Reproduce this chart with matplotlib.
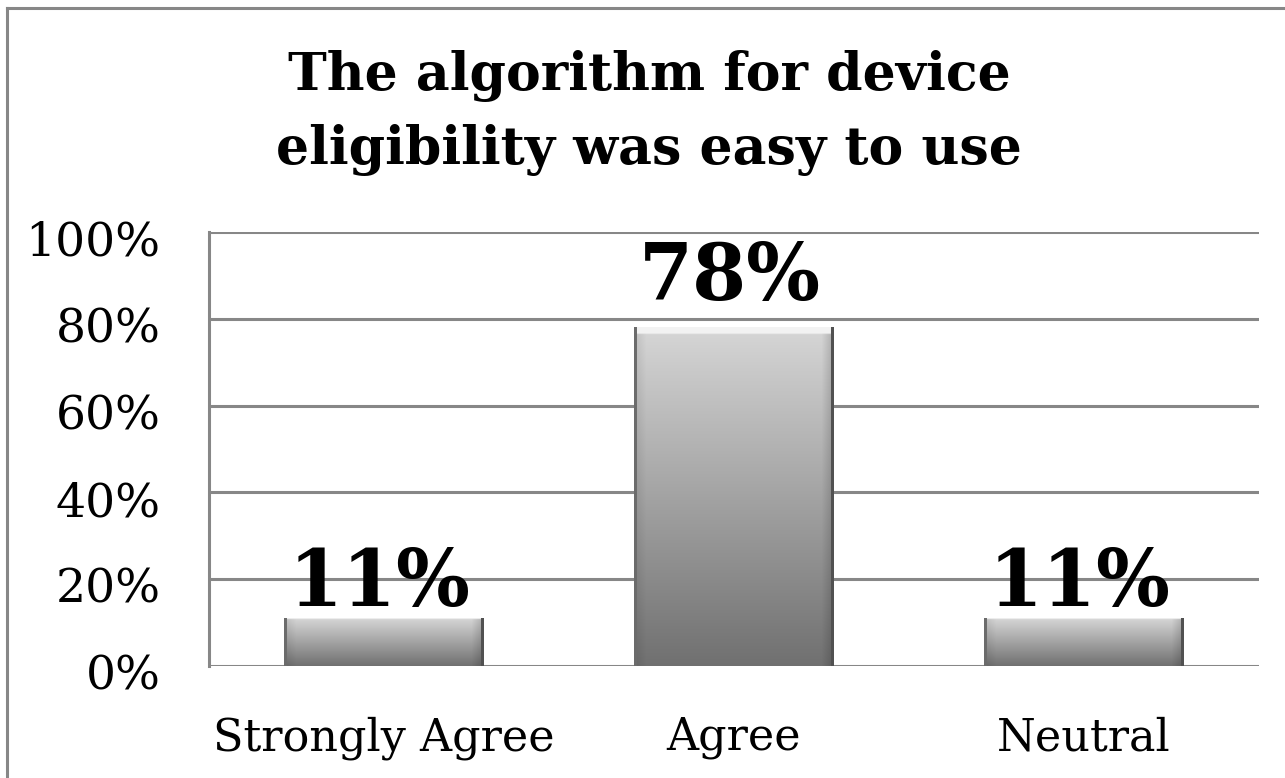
import matplotlib.pyplot as plt
import numpy as np
from matplotlib.lines import Line2D
from matplotlib.transforms import ScaledTranslation

# data
categories = ['Strongly Agree', 'Agree', 'Neutral']
values = [11, 78, 11]
value_labels = ['11%', '78%', '11%']
yticks = [0, 20, 40, 60, 80, 100]
ytick_labels = ['0%', '20%', '40%', '60%', '80%', '100%']

title = 'The algorithm for device\neligibility was easy to use'

grid_col = '#878787'
serif = ['DejaVu Serif']

fig = plt.figure(figsize=(12.85, 7.78), dpi=100)
ax = fig.add_axes([209 / 1285, 112 / 778, 1050 / 1285, 434 / 778])

x = np.arange(len(categories))
bars = ax.bar(x, values, width=0.57, color='none', edgecolor='none', zorder=3)

# gradient fill: light top, dark bottom, darker bevelled sides
ny, nx = 200, 200
t = np.linspace(0, 1, ny)[:, None]
s = np.linspace(0, 1, nx)[None, :]
shade = 0.84 - 0.40 * t
side = np.ones_like(s)
side = side - 0.10 * np.clip(1 - s / 0.06, 0, 1) - 0.18 * np.clip(1 - (1 - s) / 0.06, 0, 1)
img = shade * side
img = np.clip(img, 0, 1)
# thin light strip at top
img[:4, :] = 0.95
img[:, :3] = 0.42
img[:, -3:] = 0.32
rgb = np.dstack([img, img, img])

for b in bars:
    x0, y0 = b.get_x(), b.get_y()
    w, h = b.get_width(), b.get_height()
    im = ax.imshow(rgb, extent=[x0, x0 + w, y0, y0 + h], origin='upper',
                   aspect='auto', zorder=3, interpolation='bilinear')
    im.set_clip_path(b)

label_offsets = [-3, 8, -3]
for b, lab, off in zip(bars, value_labels, label_offsets):
    ax.annotate(lab, (b.get_x() + b.get_width() / 2, b.get_height()),
                xytext=(-3, off), textcoords='offset points',
                ha='center', va='bottom', fontsize=56, fontweight='bold',
                family=serif, color='black', zorder=5)

ax.set_xlim(-0.5, len(categories) - 0.5)
ax.set_ylim(0, 100)
ax.set_yticks(yticks)
ax.set_yticklabels(ytick_labels, family=serif, fontsize=34)
ax.set_xticks(x)
ax.set_xticklabels(categories, family=serif, fontsize=32)
ax.tick_params(length=0)
ax.tick_params(axis='y', pad=35)
ax.tick_params(axis='x', pad=36)
# office puts the y labels a touch below their gridline
shift = ScaledTranslation(0, -6 / 100, fig.dpi_scale_trans)
for lab in ax.get_yticklabels():
    lab.set_transform(lab.get_transform() + shift)
ax.yaxis.grid(True, color=grid_col, linewidth=2.2, zorder=0)
ax.set_axisbelow(True)
for sp in ['top', 'right', 'bottom']:
    ax.spines[sp].set_visible(False)
ax.spines['left'].set_color(grid_col)
ax.spines['left'].set_linewidth(2.2)

fig.text(0.505, 0.855, title, ha='center', va='center', fontsize=37.5,
         fontweight='bold', family=serif, linespacing=1.55)

# outer chart border (top and left visible in the reference)
fig.add_artist(Line2D([7 / 1285, 7 / 1285], [0, 1 - 8 / 778], color=grid_col,
                      linewidth=2.2, transform=fig.transFigure))
fig.add_artist(Line2D([7 / 1285, 1283 / 1285], [1 - 8 / 778, 1 - 8 / 778],
                      color=grid_col, linewidth=2.2, transform=fig.transFigure))

fig.savefig('out.png', dpi=100)
